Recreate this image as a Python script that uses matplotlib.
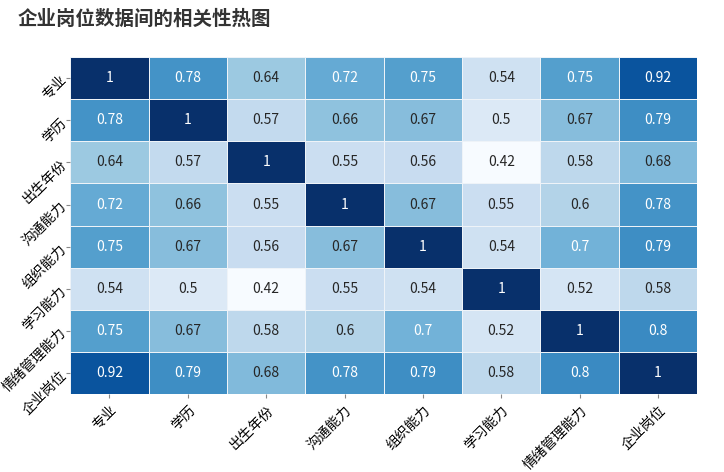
import numpy as np
import matplotlib
matplotlib.use('Agg')
import matplotlib.pyplot as plt
import seaborn as sns

#### Data ####
labels = ['专业', '学历', '出生年份', '沟通能力', '组织能力', '学习能力', '情绪管理能力', '企业岗位']
corr = np.array([
    [1, 0.78, 0.64, 0.72, 0.75, 0.54, 0.75, 0.92],
    [0.78, 1, 0.57, 0.66, 0.67, 0.5, 0.67, 0.79],
    [0.64, 0.57, 1, 0.55, 0.56, 0.42, 0.58, 0.68],
    [0.72, 0.66, 0.55, 1, 0.67, 0.55, 0.6, 0.78],
    [0.75, 0.67, 0.56, 0.67, 1, 0.54, 0.7, 0.79],
    [0.54, 0.5, 0.42, 0.55, 0.54, 1, 0.52, 0.58],
    [0.75, 0.67, 0.58, 0.6, 0.7, 0.52, 1, 0.8],
    [0.92, 0.79, 0.68, 0.78, 0.79, 0.58, 0.8, 1],
])

plt.rcParams['font.family'] = ['Noto Sans CJK SC', 'DejaVu Sans']

fig = plt.figure(figsize=(7.24, 4.72), dpi=100)
ax = fig.add_axes([0.097, 0.165, 0.866, 0.714])

#### Heatmap ####
sns.heatmap(corr, ax=ax, cmap='Blues', annot=True, cbar=False,
            linewidths=0.6, linecolor='#eef3f8',
            xticklabels=labels, yticklabels=labels,
            annot_kws={'fontsize': 10})

ax.set_xticklabels(labels, rotation=45, ha='right', rotation_mode='anchor', fontsize=10)
ax.set_yticklabels(labels, rotation=45, ha='right', va='center', rotation_mode='anchor', fontsize=10)
ax.tick_params(length=3, color='#888888')
ax.tick_params(axis='y', pad=1.5)

#### Title ####
fig.text(0.025, 0.96, '企业岗位数据间的相关性热图', fontsize=14, fontweight='bold',
         color='#333333', ha='left', va='center')

fig.savefig('out.png', dpi=100)
